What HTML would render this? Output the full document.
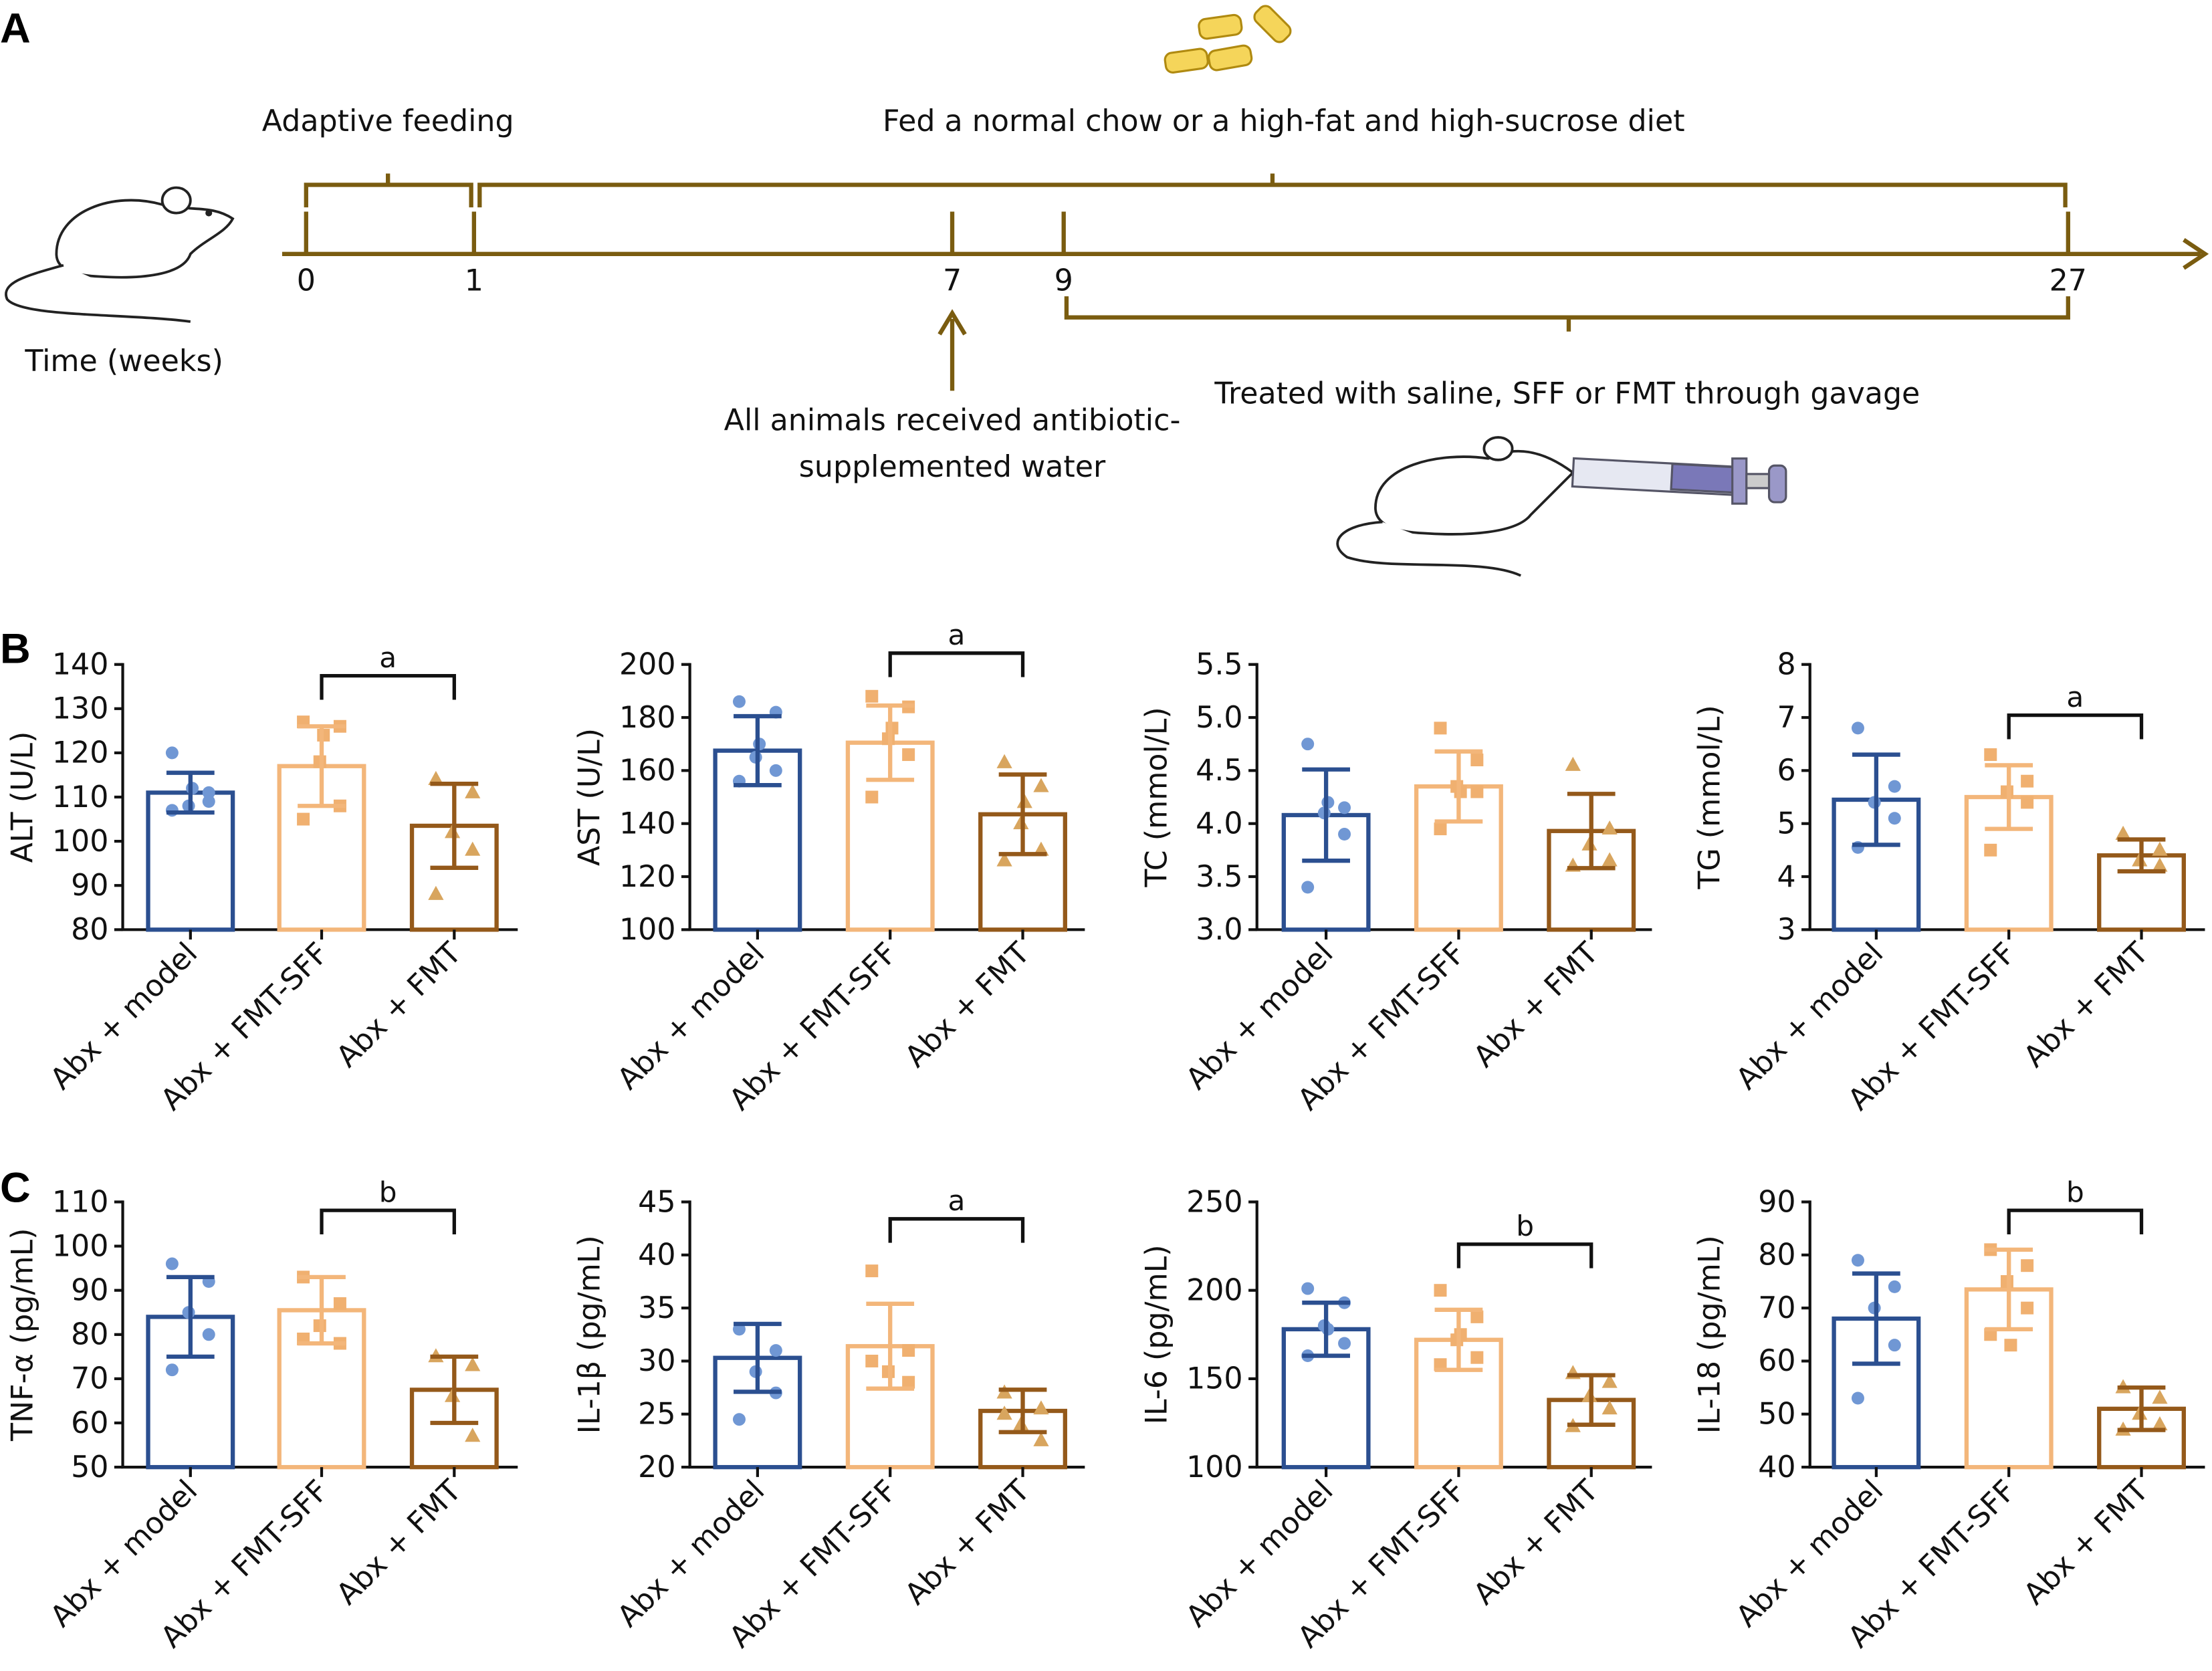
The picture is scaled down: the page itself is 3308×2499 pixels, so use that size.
<!DOCTYPE html>
<html><head><meta charset="utf-8"><style>html,body{margin:0;padding:0;background:#fff}svg{display:block}</style></head>
<body>
<svg id="s" xmlns="http://www.w3.org/2000/svg" width="3308" height="2499" viewBox="0 0 1568 1184.5" font-family="'DejaVu Sans','Liberation Sans',sans-serif">
<rect width="1568" height="1185" fill="#fff"/>
<g fill="none" stroke="#7a5c10" stroke-width="3">
<line x1="200" y1="180" x2="1560" y2="180"/>
<polyline points="1548,170 1563,180 1548,190"/>
<line x1="217" y1="150" x2="217" y2="180"/><line x1="336" y1="150" x2="336" y2="180"/>
<line x1="675" y1="150" x2="675" y2="180"/><line x1="754" y1="150" x2="754" y2="180"/>
<line x1="1466" y1="150" x2="1466" y2="180"/>
<polyline points="217,147 217,131 334,131 334,147"/><line x1="275" y1="131" x2="275" y2="123"/>
<polyline points="340,147 340,131 1464,131 1464,147"/><line x1="902" y1="131" x2="902" y2="123"/>
<polyline points="756,210 756,225 1466,225 1466,210"/><line x1="1112" y1="225" x2="1112" y2="235"/>
<line x1="675" y1="277" x2="675" y2="226"/><polyline points="666,237 675,222 684,237"/>
</g>
<g font-size="21" fill="#111" text-anchor="middle">
<text x="217" y="206">0</text><text x="336" y="206">1</text><text x="675" y="206">7</text><text x="754" y="206">9</text><text x="1466" y="206">27</text>
<text x="275" y="93">Adaptive feeding</text>
<text x="910" y="93">Fed a normal chow or a high-fat and high-sucrose diet</text>
<text x="1111" y="286">Treated with saline, SFF or FMT through gavage</text>
<text x="675" y="305">All animals received antibiotic-</text>
<text x="675" y="338">supplemented water</text>
<text x="88" y="263">Time (weeks)</text>
</g>
<text x="0" y="30" font-size="30" font-weight="bold" font-family="'Liberation Sans',sans-serif">A</text>
<text x="0" y="470" font-size="30" font-weight="bold" font-family="'Liberation Sans',sans-serif">B</text>
<text x="0" y="852" font-size="30" font-weight="bold" font-family="'Liberation Sans',sans-serif">C</text>
<g fill="#f5d55a" stroke="#b08a10" stroke-width="1.5">
<rect x="850" y="12" width="30" height="14" rx="5" transform="rotate(-8 865 19)"/>
<rect x="888" y="10" width="28" height="14" rx="5" transform="rotate(45 902 17)"/>
<rect x="826" y="36" width="30" height="14" rx="5" transform="rotate(-8 841 43)"/>
<rect x="857" y="34" width="30" height="14" rx="5" transform="rotate(-10 872 41)"/>
</g>
<g fill="#fff" stroke="#222" stroke-width="1.8">
<path d="M40,180 C40,150 80,135 115,145 C135,150 150,145 165,155 C160,165 145,170 135,180 C130,195 100,198 70,196 C50,195 40,190 40,180Z"/>
<ellipse cx="125" cy="142" rx="10" ry="9"/>
<path d="M45,188 C20,195 0,200 5,212 C15,225 90,222 135,228" />
<circle cx="148" cy="151" r="1.5" fill="#222"/>
</g>
<g fill="#fff" stroke="#222" stroke-width="1.8">
<path d="M975,360 C975,330 1020,320 1055,325 C1075,315 1095,320 1115,335 C1105,345 1095,355 1085,365 C1075,378 1040,380 1010,378 C985,377 975,370 975,360Z"/>
<ellipse cx="1062" cy="318" rx="10" ry="8"/>
<path d="M980,370 C950,372 940,385 955,395 C985,405 1050,395 1078,408"/>
</g>
<g stroke="#556" stroke-width="1.5">
<rect x="1115" y="328" width="120" height="20" fill="#e6e8f2" transform="rotate(3 1175 338)"/>
<rect x="1185" y="330" width="45" height="18" fill="#7a78b8" transform="rotate(3 1207 339)"/>
<rect x="1228" y="325" width="10" height="32" fill="#9a98c8"/>
<rect x="1238" y="336" width="16" height="10" fill="#ccc"/>
<rect x="1254" y="330" width="12" height="26" rx="4" fill="#9a98c8"/>
</g>
<g id="charts"></g>
</svg>
<script>
var C=[
{x:87,top:471,bot:659,min:80,max:140,st:10,lab:"ALT (U/L)",m:[111,117,103.5],sd:[4.5,9,9.5],p:[[120,111,108,109,107,112],[127,126,118,108,105,124],[114,111,102,98,88]],br:["a",479],c:[135,228,322],dec:0},
{x:489,top:471,bot:659,min:100,max:200,st:20,lab:"AST (U/L)",m:[167.5,170.5,143.5],sd:[13,14,15],p:[[186,182,165,160,156,170],[188,184,172,166,150,176],[163,154,140,130,126,148]],br:["a",463],c:[537,631,725],dec:0},
{x:891,top:471,bot:659,min:3,max:5.5,st:0.5,lab:"TC (mmol/L)",m:[4.08,4.35,3.93],sd:[0.43,0.33,0.35],p:[[4.75,4.15,4.1,3.9,3.4,4.2],[4.9,4.6,4.35,4.3,3.95,4.3],[4.55,3.95,3.8,3.65,3.6]],br:null,c:[940,1034,1128],dec:1},
{x:1283,top:471,bot:659,min:3,max:8,st:1,lab:"TG (mmol/L)",m:[5.45,5.5,4.4],sd:[0.85,0.6,0.3],p:[[6.8,5.7,5.4,5.1,4.55],[6.3,5.8,5.6,5.4,4.5],[4.8,4.5,4.3,4.2]],br:["a",507],c:[1330,1424,1518],dec:0},
{x:87,top:852,bot:1040,min:50,max:110,st:10,lab:"TNF-α (pg/mL)",m:[84,85.5,67.5],sd:[9,7.5,7.5],p:[[96,92,85,80,72],[93,87,82,78,79],[75,73,66,57]],br:["b",858],c:[135,228,322],dec:0},
{x:489,top:852,bot:1040,min:20,max:45,st:5,lab:"IL-1β (pg/mL)",m:[30.3,31.4,25.3],sd:[3.2,4,2],p:[[33,31,29,27,24.5],[38.5,31,29,28,30],[27,25.5,24,22.5,25]],br:["a",864],c:[537,631,725],dec:0},
{x:891,top:852,bot:1040,min:100,max:250,st:50,lab:"IL-6 (pg/mL)",m:[178,172,138],sd:[15,17,14],p:[[201,193,180,170,163,178],[200,185,172,162,158,175],[153,148,140,133,123]],br:["b",882],c:[940,1034,1128],dec:0},
{x:1283,top:852,bot:1040,min:40,max:90,st:10,lab:"IL-18 (pg/mL)",m:[68,73.5,51],sd:[8.5,7.5,4],p:[[79,74,70,63,53],[81,78,75,70,65,63],[55,53,50,48,47]],br:["b",858],c:[1330,1424,1518],dec:0}];
var cols=["#2b4f90","#f3b67a","#94591a"],pc=["#7097d4","#f0b070","#d8a55e"],names=["Abx + model","Abx + FMT-SFF","Abx + FMT"];
var h="";
C.forEach(function(c){
 var Y=function(v){return c.bot-(v-c.min)/(c.max-c.min)*(c.bot-c.top)};
 var xr=c.x+280;
 h+='<line x1="'+c.x+'" y1="'+(c.top-1)+'" x2="'+c.x+'" y2="'+c.bot+'" stroke="#111" stroke-width="2"/>';
 h+='<line x1="'+(c.x-1)+'" y1="'+c.bot+'" x2="'+xr+'" y2="'+c.bot+'" stroke="#111" stroke-width="2"/>';
 for(var v=c.min;v<=c.max+1e-9;v+=c.st){var y=Y(v);
  h+='<line x1="'+(c.x-6)+'" y1="'+y+'" x2="'+c.x+'" y2="'+y+'" stroke="#111" stroke-width="2"/>';
  h+='<text x="'+(c.x-10)+'" y="'+(y+7)+'" font-size="21" text-anchor="end" fill="#111">'+v.toFixed(c.dec)+'</text>';}
 h+='<text transform="translate('+(c.x-64)+','+((c.top+c.bot)/2)+') rotate(-90)" font-size="21" text-anchor="middle" fill="#111">'+c.lab+'</text>';
 for(var i=0;i<3;i++){var cx=c.c[i],ym=Y(c.m[i]);
  h+='<rect x="'+(cx-30)+'" y="'+ym+'" width="60" height="'+(c.bot-ym)+'" fill="none" stroke="'+cols[i]+'" stroke-width="3"/>';
  h+='<line x1="'+cx+'" y1="'+(c.bot)+'" x2="'+cx+'" y2="'+(c.bot+7)+'" stroke="#111" stroke-width="2"/>';
  var p=c.p[i];p.forEach(function(v,k){var px=cx+(k%2?13:-13)*(k%3==2?0.1:1),py=Y(v);
   if(i==0)h+='<circle cx="'+px+'" cy="'+py+'" r="4.5" fill="'+pc[i]+'"/>';
   else if(i==1)h+='<rect x="'+(px-4.5)+'" y="'+(py-4.5)+'" width="9" height="9" fill="'+pc[i]+'"/>';
   else h+='<polygon points="'+px+','+(py-6)+' '+(px-5.5)+','+(py+4)+' '+(px+5.5)+','+(py+4)+'" fill="'+pc[i]+'"/>';});
  var y1=Y(c.m[i]+c.sd[i]),y2=Y(c.m[i]-c.sd[i]);
  h+='<g stroke="'+cols[i]+'" stroke-width="3"><line x1="'+cx+'" y1="'+y1+'" x2="'+cx+'" y2="'+y2+'"/><line x1="'+(cx-17)+'" y1="'+y1+'" x2="'+(cx+17)+'" y2="'+y1+'"/><line x1="'+(cx-17)+'" y1="'+y2+'" x2="'+(cx+17)+'" y2="'+y2+'"/></g>';
  h+='<text transform="translate('+(cx+6)+','+(c.bot+18)+') rotate(-45)" font-size="21" text-anchor="end" fill="#111">'+names[i]+'</text>';
 }
 if(c.br){var by=c.br[1];
  h+='<polyline points="'+c.c[1]+','+(by+17)+' '+c.c[1]+','+by+' '+c.c[2]+','+by+' '+c.c[2]+','+(by+17)+'" fill="none" stroke="#111" stroke-width="2.5"/>';
  h+='<text x="'+((c.c[1]+c.c[2])/2)+'" y="'+(by-6)+'" font-size="20" text-anchor="middle" fill="#111">'+c.br[0]+'</text>';}
});
document.getElementById("charts").innerHTML=h;
</script>
</body></html>
